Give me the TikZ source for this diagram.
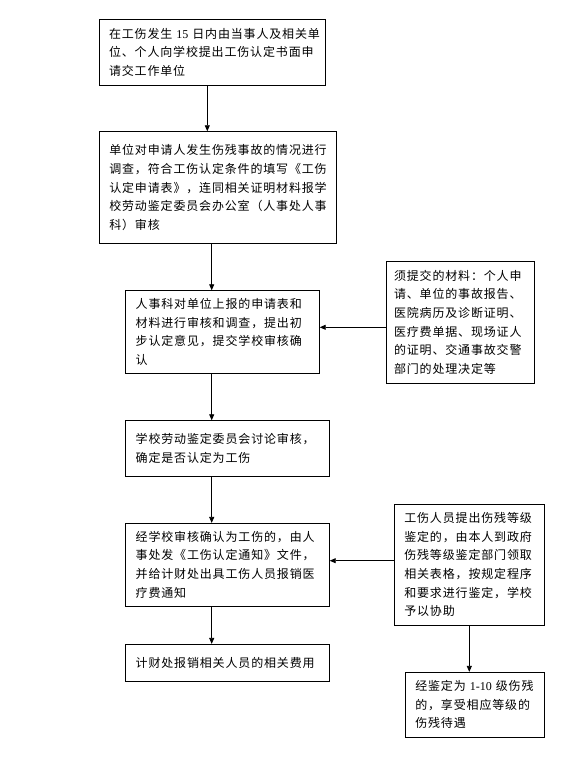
\documentclass[tikz,border=0pt]{standalone}
\usepackage{fontspec}
\setmainfont{Noto Sans CJK SC}[LetterSpace=7]
\newfontfamily\latn{Liberation Serif}
\usetikzlibrary{arrows.meta}
\begin{document}
\begin{tikzpicture}[x=1pt,y=-1pt,
  box/.style={draw, line width=0.8pt, align=left, inner xsep=10pt, inner ysep=0pt,
    font=\fontsize{12}{18.6}\selectfont, anchor=center},
  arr/.style={line width=0.8pt, -{Triangle[length=6pt,width=5pt]}}]
\useasboundingbox (0,0) rectangle (568,778);
\fill[white] (0,0) rectangle (568,778);

\node[box, minimum width=226.7pt, minimum height=66pt, text width=206.7pt] (b1) at (212.35,52.3)
  {\mbox{在工伤发生 {\latn 15} 日内由当事人及相关单}\\位、个人向学校提出工伤认定书面申\\请交工作单位};
\node[box, minimum width=237.4pt, minimum height=111.6pt, text width=217.4pt] (b2) at (218,187.5)
  {单位对申请人发生伤残事故的情况进行\\调查，符合工伤认定条件的填写《工伤\\认定申请表》，连同相关证明材料报学\\校劳动鉴定委员会办公室（人事处人事\\科）审核};
\node[box, minimum width=193.6pt, minimum height=82.6pt, text width=173.6pt] (b3) at (222.5,332)
  {人事科对单位上报的申请表和\\材料进行审核和调查，提出初\\步认定意见，提交学校审核确\\认};
\node[box, inner xsep=8pt, minimum width=148.3pt, minimum height=122.3pt, text width=132.3pt] (b4) at (460.15,322.15)
  {须提交的材料：个人申\\请、单位的事故报告、\\医院病历及诊断证明、\\医疗费单据、现场证人\\的证明、交通事故交警\\部门的处理决定等};
\node[box, minimum width=203.6pt, minimum height=55.3pt, text width=183.6pt] (b5) at (227.5,448.35)
  {学校劳动鉴定委员会讨论审核，\\确定是否认定为工伤\\[3pt]};
\node[box, minimum width=203.6pt, minimum height=82.7pt, text width=183.6pt] (b6) at (227.5,564.65)
  {经学校审核确认为工伤的，由人\\事处发《工伤认定通知》文件，\\并给计财处出具工伤人员报销医\\疗费通知};
\node[box, minimum width=150pt, minimum height=120.7pt, text width=130pt] (b7) at (469.3,564.65)
  {工伤人员提出伤残等级\\鉴定的，由本人到政府\\伤残等级鉴定部门领取\\相关表格，按规定程序\\和要求进行鉴定，学校\\予以协助};
\node[box, minimum width=203.6pt, minimum height=36.7pt, text width=183.6pt] (b8) at (227.5,662.65)
  {计财处报销相关人员的相关费用\\[4pt]};
\node[box, minimum width=139pt, minimum height=65pt, text width=119pt] (b9) at (474.8,704.8)
  {\mbox{经鉴定为 {\latn 1-10} 级伤残}\\的，享受相应等级的\\伤残待遇};

\coordinate (ax1) at (207.3,0);
\coordinate (ax2) at (211.7,0);
\coordinate (ay1) at (0,327.3);
\coordinate (ay2) at (0,560.7);

\draw[arr] (b1.south -| ax1) -- (b2.north -| ax1);
\draw[arr] (b2.south -| ax2) -- (b3.north -| ax2);
\draw[arr] (b3.south -| ax2) -- (b5.north -| ax2);
\draw[arr] (b5.south -| ax2) -- (b6.north -| ax2);
\draw[arr] (b6.south -| ax2) -- (b8.north -| ax2);
\draw[arr] (b4.west |- ay1) -- (b3.east |- ay1);
\draw[arr] (b7.west |- ay2) -- (b6.east |- ay2);
\draw[arr] (b7.south) -- (b7.south |- b9.north);
\end{tikzpicture}
\end{document}
